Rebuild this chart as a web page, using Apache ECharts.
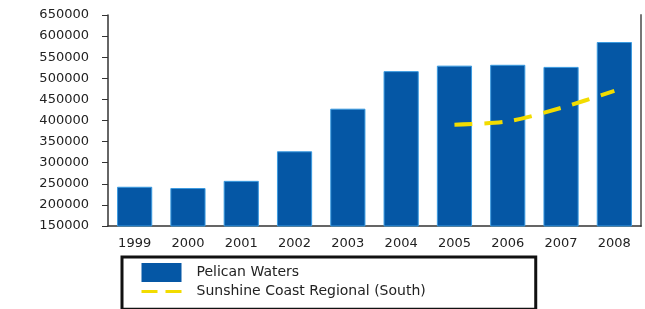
<!DOCTYPE html>
<html>
<head>
<meta charset="utf-8">
<script src="https://cdn.jsdelivr.net/npm/echarts@6/dist/echarts.min.js"></script>
<style>
  html, body { margin: 0; padding: 0; background: #fff; }
  #chart { width: 645px; height: 309px; }
</style>
</head>
<body>
<div id="chart"></div>
<script>
var years = ["1999", "2000", "2001", "2002", "2003", "2004", "2005", "2006", "2007", "2008"];
var pelicanWaters = [243000, 240000, 257000, 327000, 428000, 517000, 530000, 532000, 527000, 586000];
var sunshineCoast = [null, null, null, null, null, null, 390000, 398000, 430000, 470000];
var yTicks = { min: 150000, max: 650000, interval: 50000 };

var chart = echarts.init(document.getElementById("chart"));
var font = "DejaVu Sans";

var option = {
  animation: false,
  grid: { left: 108, right: 4, top: 15, bottom: 83 },
  legend: {
    orient: "vertical",
    left: 122,
    top: 257,
    padding: [6, 110, 10, 18],
    borderColor: "#111",
    borderWidth: 3,
    itemWidth: 40,
    itemHeight: 19,
    itemGap: 2,
    textStyle: { fontFamily: font, fontSize: 14, color: "#222", padding: [0, 0, 0, 10] },
    data: [
      { name: "Pelican Waters", icon: "rect", itemStyle: { borderWidth: 0 } },
      {
        name: "Sunshine Coast Regional (South)",
        itemStyle: { opacity: 0 },
        lineStyle: { width: 3, type: [16, 8] }
      }
    ]
  },
  xAxis: {
    type: "category",
    data: years,
    axisLine: { lineStyle: { color: "#333", width: 1.5 } },
    axisTick: { alignWithLabel: true, length: 5, lineStyle: { color: "#333" } },
    axisLabel: { fontFamily: font, fontSize: 13, color: "#222", margin: 11 }
  },
  yAxis: [
    {
      type: "value",
      min: yTicks.min,
      max: yTicks.max,
      interval: yTicks.interval,
      splitLine: { show: false },
      axisLine: { show: true, lineStyle: { color: "#333", width: 1.5 } },
      axisTick: { show: true, length: 6, lineStyle: { color: "#333" } },
      axisLabel: {
        fontFamily: font, fontSize: 13, color: "#222", margin: 19,
        formatter: function (v) { return String(v); }
      }
    },
    {
      type: "value",
      position: "right",
      min: yTicks.min,
      max: yTicks.max,
      interval: yTicks.interval,
      splitLine: { show: false },
      axisLine: { show: true, lineStyle: { color: "#777", width: 2 } },
      axisTick: { show: false },
      axisLabel: { show: false }
    }
  ],
  series: [
    {
      name: "Pelican Waters",
      type: "bar",
      barWidth: "66%",
      data: pelicanWaters,
      itemStyle: { color: "#0557a5", borderColor: "#3b9be0", borderWidth: 1 }
    },
    {
      name: "Sunshine Coast Regional (South)",
      type: "line",
      data: sunshineCoast,
      smooth: 0.3,
      symbol: "none",
      lineStyle: { color: "#f2dc00", width: 4, type: [18, 12] },
      itemStyle: { color: "#f2dc00" }
    }
  ]
};

chart.setOption(option);
window.addEventListener("resize", function () {
  chart.resize();
});
</script>
</body>
</html>
